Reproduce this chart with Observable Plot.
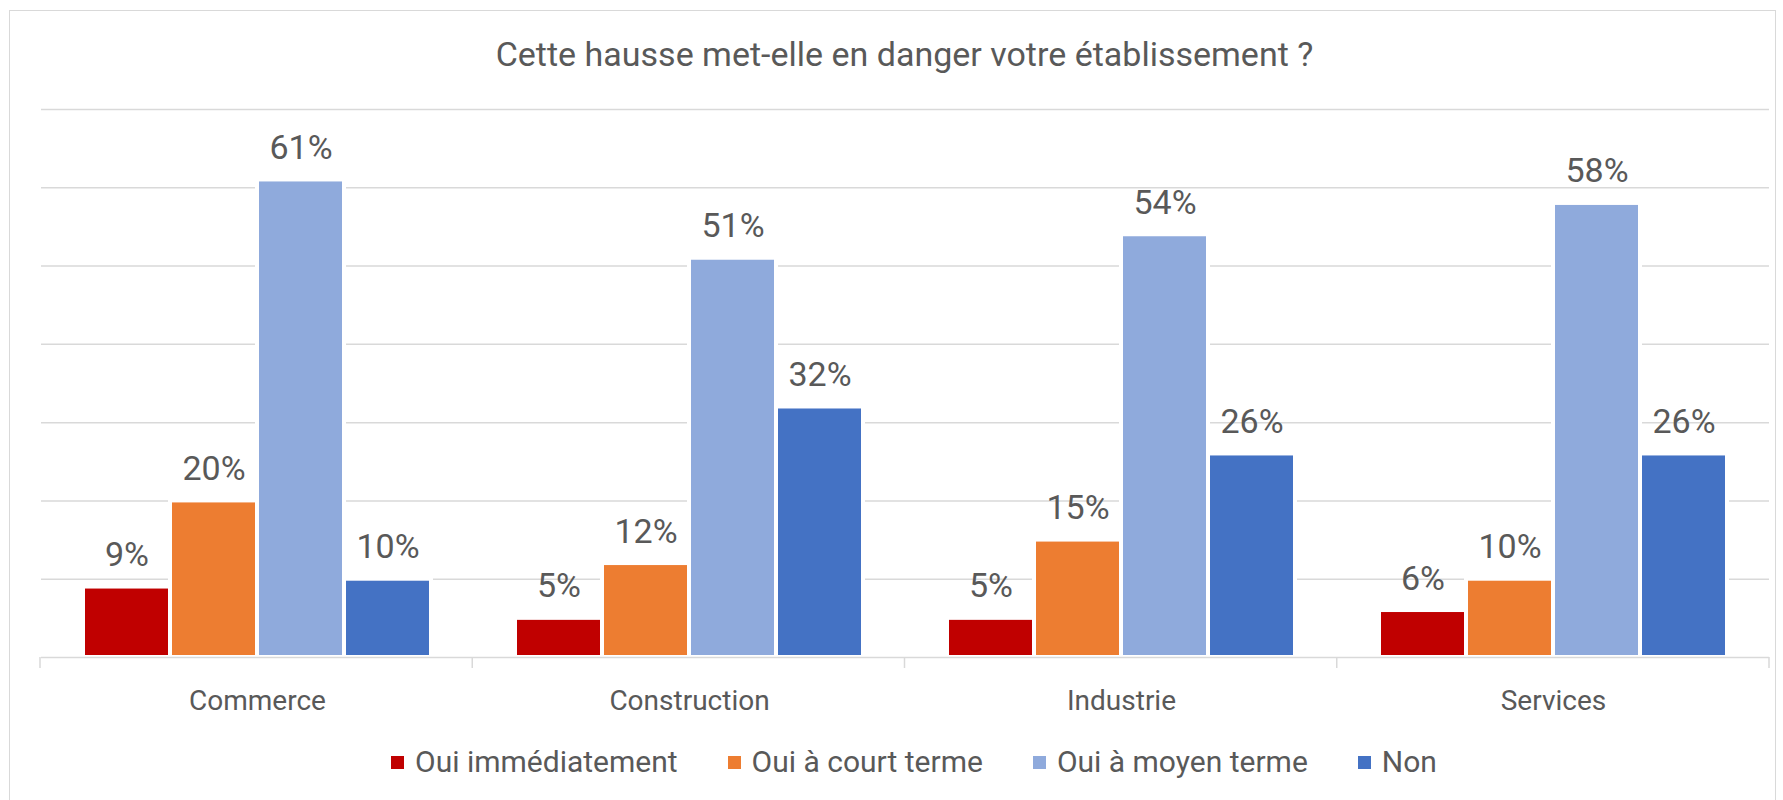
<!DOCTYPE html>
<html>
<head>
<meta charset="utf-8">
<script src="https://cdn.jsdelivr.net/npm/d3@7"></script>
<script src="https://cdn.jsdelivr.net/npm/@observablehq/plot@0.6"></script>
<style>
  html, body { margin: 0; padding: 0; background: #fff; }
  body { width: 1783px; height: 800px; position: relative; overflow: hidden; font-family: Roboto, "Open Sans", sans-serif; color: #595959; }
  #chart { position: absolute; left: 0; top: 0; z-index: 1; }
  #frame { position: absolute; left: 9px; top: 10px; width: 1767px; height: 830px; border: 1px solid #d9d9d9; box-sizing: border-box; z-index: 2; pointer-events: none; }
  #title { position: absolute; left: 40px; width: 1729px; top: 37px; font-size: 34px; line-height: 34px; text-align: center; white-space: nowrap; z-index: 3; }
  #legend { position: absolute; left: 391px; top: 747px; display: flex; align-items: center; gap: 50px; font-size: 30px; line-height: 30px; white-space: nowrap; z-index: 3; }
  #legend .item { display: flex; align-items: center; }
  #legend .sw { width: 13px; height: 13px; margin-right: 11px; }
</style>
</head>
<body>
<div id="chart"></div>
<div id="frame"></div>
<div id="title"></div>
<div id="legend"></div>
<script>
const titleText = "Cette hausse met-elle en danger votre établissement ?";
const categories = ["Commerce", "Construction", "Industrie", "Services"];
const series = ["Oui immédiatement", "Oui à court terme", "Oui à moyen terme", "Non"];
const ouiImmediatement = [9, 5, 5, 6];
const ouiCourtTerme = [20, 12, 15, 10];
const ouiMoyenTerme = [61, 51, 54, 58];
const non = [10, 32, 26, 26];
const gridTicks = [10, 20, 30, 40, 50, 60, 70];
const colors = ["#C00000", "#ED7D31", "#8FAADC", "#4472C4"];

const seriesValues = [ouiImmediatement, ouiCourtTerme, ouiMoyenTerme, non];
const data = [];
categories.forEach((c, i) => {
  series.forEach((s, j) => data.push({cat: c, series: s, value: seriesValues[j][i]}));
});

document.getElementById("title").textContent = titleText;

const W = 1783, H = 740;
const plot = Plot.plot({
  width: W,
  height: H,
  marginLeft: 40,
  marginRight: 14,
  marginTop: 109,
  marginBottom: H - 657,
  style: {fontFamily: "Roboto, 'Open Sans', sans-serif", fontSize: "28px", color: "#595959", background: "transparent", overflow: "visible"},
  fx: {domain: categories, padding: 0, label: null, tickSize: 0, tickPadding: 33, axis: "bottom"},
  x: {domain: series, paddingInner: 0, paddingOuter: 0.48, axis: null},
  y: {domain: [0, 70], axis: null},
  color: {domain: series, range: colors},
  marks: [
    Plot.ruleY(gridTicks, {stroke: "#d9d9d9", strokeWidth: 1.5}),
    Plot.barY(data, {fx: "cat", x: "series", y: "value", fill: "series", stroke: "white", strokeWidth: 4}),
    Plot.ruleY([0], {stroke: "#d9d9d9", strokeWidth: 1.5}),
    Plot.text(data, {fx: "cat", x: "series", y: "value", text: d => d.value + "%", dy: -21, lineAnchor: "bottom", fontSize: 34, fill: "#595959"})
  ]
});
document.getElementById("chart").appendChild(plot);

// category dividers at facet band edges, from the library's fx and y scales
const fxs = plot.scale("fx");
const ys = plot.scale("y");
const band = d3.scaleBand().domain(fxs.domain).range(fxs.range)
  .paddingInner(fxs.paddingInner ?? fxs.padding ?? 0)
  .paddingOuter(fxs.paddingOuter ?? fxs.padding ?? 0)
  .align(fxs.align ?? 0.5);
const yScale = d3.scaleLinear().domain(ys.domain).range(ys.range);
const edges = band.domain().map(d => band(d)).concat([band(band.domain().at(-1)) + band.bandwidth()]);
const y0 = yScale(0);
d3.select(plot).append("g")
  .selectAll("line").data(edges).join("line")
  .attr("x1", d => d).attr("x2", d => d)
  .attr("y1", y0).attr("y2", y0 + 11)
  .attr("stroke", "#d9d9d9").attr("stroke-width", 1.5);

// legend
const legend = d3.select("#legend");
series.forEach((s, i) => {
  const it = legend.append("div").attr("class", "item");
  it.append("div").attr("class", "sw").style("background", colors[i]);
  it.append("span").text(s);
});
</script>
</body>
</html>
